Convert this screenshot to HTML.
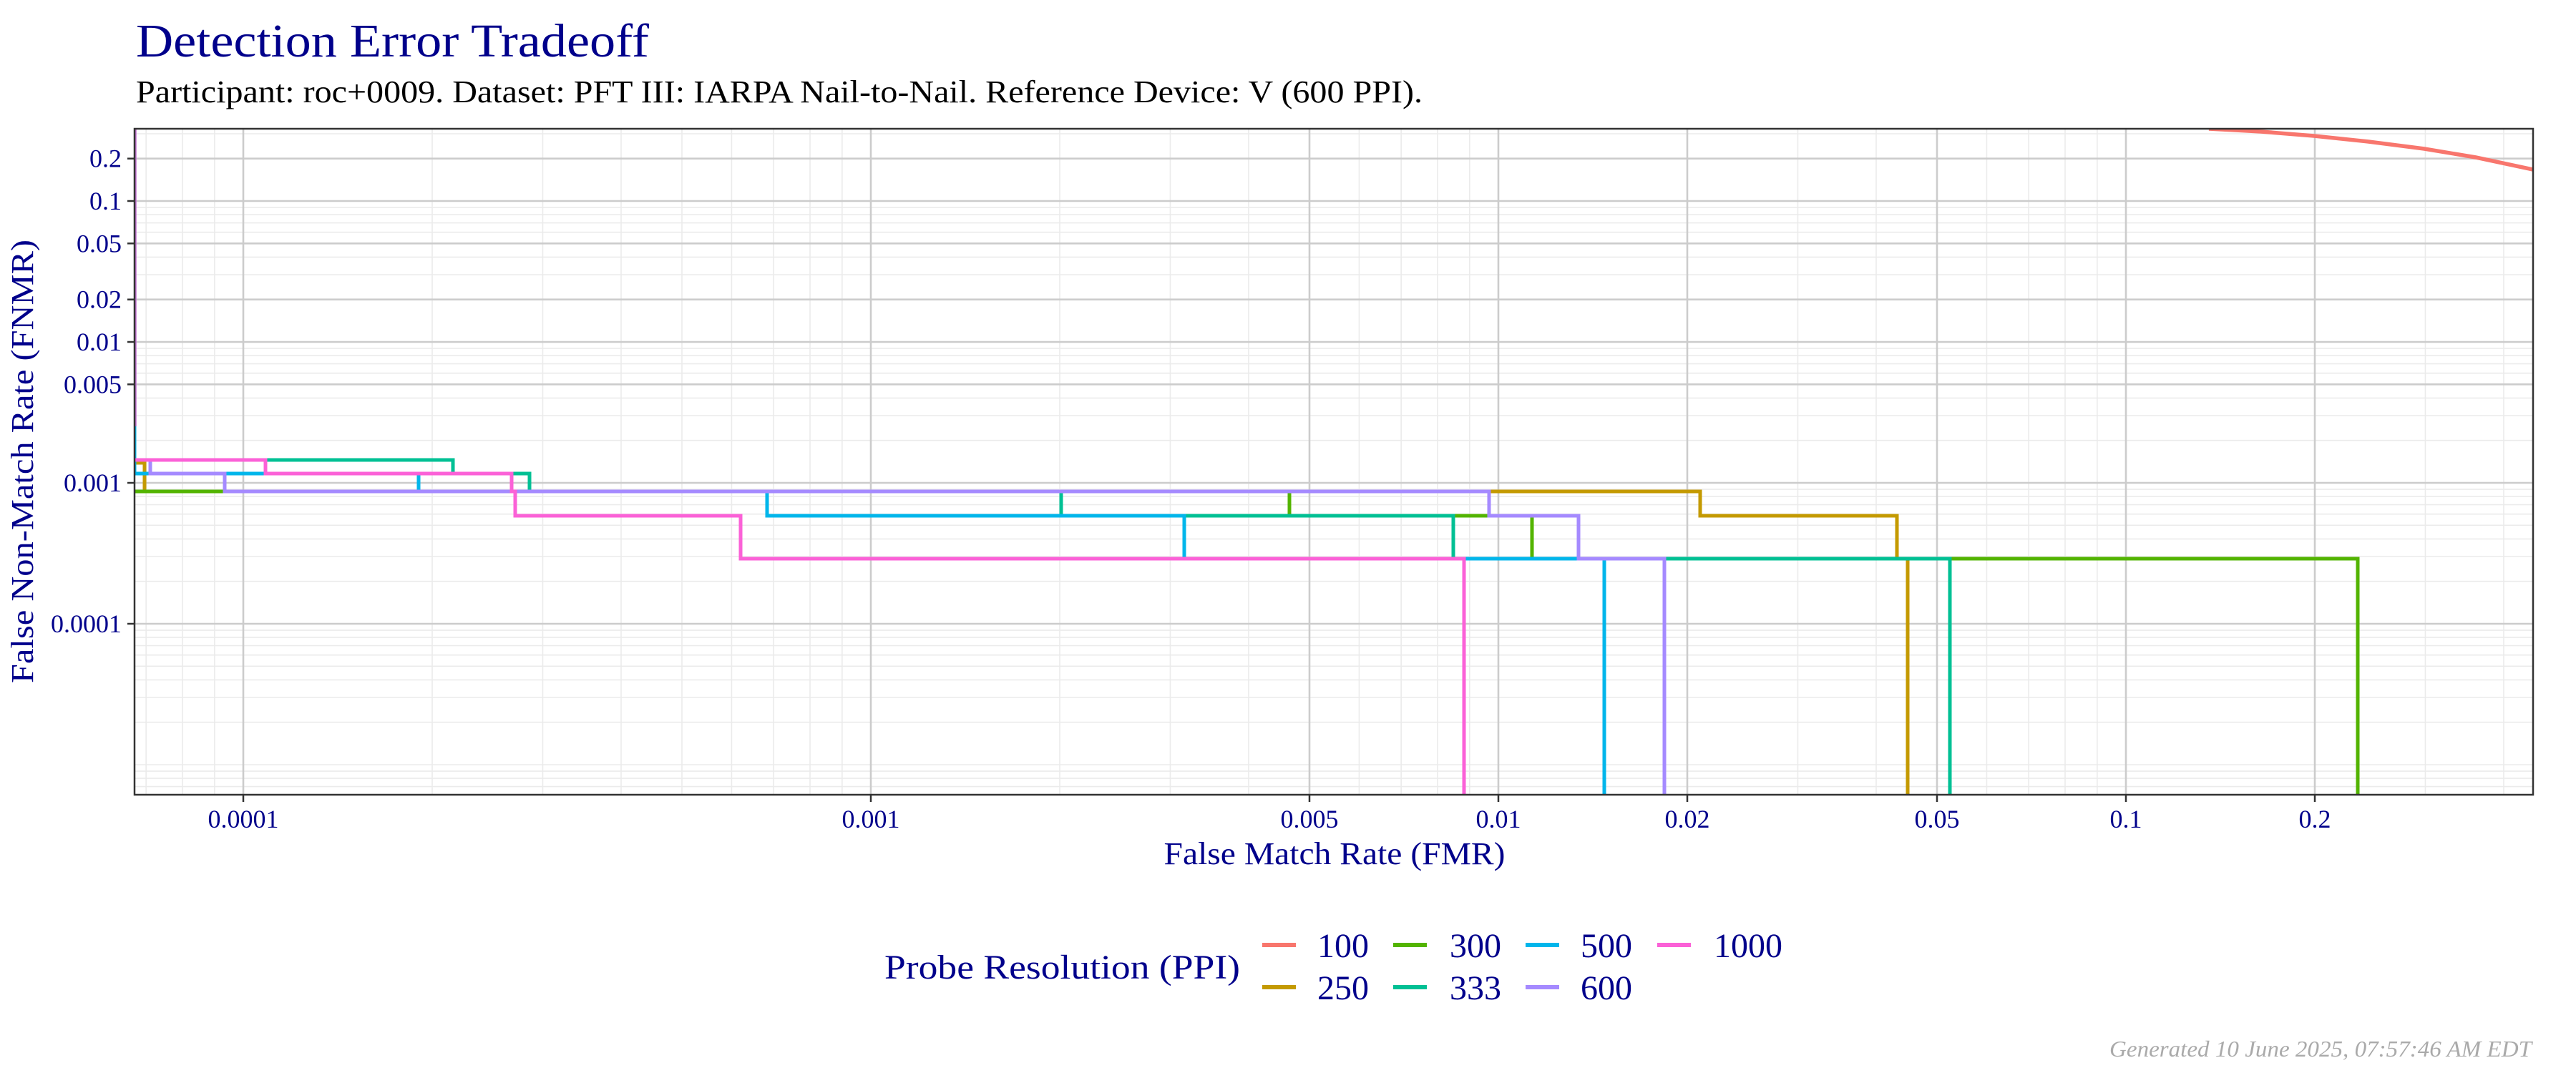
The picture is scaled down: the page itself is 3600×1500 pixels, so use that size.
<!DOCTYPE html>
<html><head><meta charset="utf-8"><style>
html,body{margin:0;padding:0;background:#fff;width:3600px;height:1500px;overflow:hidden}
svg{display:block}
text{font-family:"Liberation Serif",serif}
</style></head><body>
<svg id="s" width="3600" height="1500" xmlns="http://www.w3.org/2000/svg">
<rect width="3600" height="1500" fill="#fff"/>
<text x="190" y="79" font-size="66" fill="#00008B" textLength="717" lengthAdjust="spacingAndGlyphs">Detection Error Tradeoff</text>
<text x="190" y="143" font-size="44" fill="#000" textLength="1798" lengthAdjust="spacingAndGlyphs">Participant: roc+0009. Dataset: PFT III: IARPA Nail-to-Nail. Reference Device: V (600 PPI).</text>
<g id="grid"></g>
<g fill="none" stroke-width="5" stroke-linejoin="miter" clip-path="url(#cp)">
<path d="M3087,180 L3160,184 L3234,190 L3310,198 L3388,208 L3460,220 L3540,237" stroke="#F8766D" stroke-width="5.5"/>
<path d="M188,647 H202 V687 H2376 V721 H2651 V781 H2666 V1111" stroke="#C49A00"/>
<path d="M188,687 H1802 V721 H2141 V781 H3295 V1111" stroke="#53B400"/>
<path d="M188,643 H633 V662 H740 V687 H1483 V721 H2031 V781 H2725 V1111" stroke="#00C094"/>
<path d="M188,596 V662 H585 V687 H1072 V721 H1655 V781 H2242 V1111" stroke="#00B6EB"/>
<path d="M188,643 H210 V662 H314 V687 H2081 V721 H2206 V781 H2326 V1111" stroke="#A58AFF"/>
<path d="M188,643 H371 V662 H715 V687 H720 V721 H1035 V781 H2046 V1111" stroke="#FB61D7"/>
<path d="M189.5,180 V596" stroke="#C070D0" stroke-width="2.5"/>
</g>
<defs><clipPath id="cp"><rect x="188" y="180" width="3352" height="931"/></clipPath></defs>
<rect x="188" y="180" width="3352" height="931" fill="none" stroke="#333" stroke-width="2.5"/>
<g id="ticks"></g>
<text x="1865" y="1208" font-size="44" fill="#00008B" text-anchor="middle" textLength="477" lengthAdjust="spacingAndGlyphs">False Match Rate (FMR)</text>
<text transform="translate(46,645) rotate(-90)" font-size="44" fill="#00008B" text-anchor="middle" textLength="620" lengthAdjust="spacingAndGlyphs">False Non-Match Rate (FNMR)</text>
<text x="1236" y="1368" font-size="48" fill="#00008B" textLength="497" lengthAdjust="spacingAndGlyphs">Probe Resolution (PPI)</text>
<g stroke-width="6">
<line x1="1764" y1="1321" x2="1811" y2="1321" stroke="#F8766D"/>
<line x1="1764" y1="1380" x2="1811" y2="1380" stroke="#C49A00"/>
<line x1="1947" y1="1321" x2="1994" y2="1321" stroke="#53B400"/>
<line x1="1947" y1="1380" x2="1994" y2="1380" stroke="#00C094"/>
<line x1="2132" y1="1321" x2="2179" y2="1321" stroke="#00B6EB"/>
<line x1="2132" y1="1380" x2="2179" y2="1380" stroke="#A58AFF"/>
<line x1="2316" y1="1321" x2="2363" y2="1321" stroke="#FB61D7"/>
</g>
<g font-size="48" fill="#00008B">
<text x="1841" y="1338">100</text><text x="1841" y="1397">250</text>
<text x="2026" y="1338">300</text><text x="2026" y="1397">333</text>
<text x="2209" y="1338">500</text><text x="2209" y="1397">600</text>
<text x="2395" y="1338">1000</text>
</g>
<text x="2948" y="1477" font-size="32" font-style="italic" fill="#AAAAAA" textLength="590" lengthAdjust="spacingAndGlyphs">Generated 10 June 2025, 07:57:46 AM EDT</text>
</svg>
<script>
(function(){
var NS="http://www.w3.org/2000/svg";
function X(v){return 340+877*(Math.log10(v)+4);}
function Y(v){return 675-197*(Math.log10(v)+3);}
var L=188,R=3540,T=180,B=1111;
var g=document.getElementById("grid"),tk=document.getElementById("ticks");
function el(p,tag,a,txt){var e=document.createElementNS(NS,tag);for(var k in a)e.setAttribute(k,a[k]);if(txt!==undefined)e.textContent=txt;p.appendChild(e);return e;}
var xl=[0.0001,0.001,0.005,0.01,0.02,0.05,0.1,0.2],yl=[0.0001,0.001,0.005,0.01,0.02,0.05,0.1,0.2];
function isIn(arr,v){for(var i=0;i<arr.length;i++)if(Math.abs(arr[i]-v)/v<1e-6)return true;return false;}
for(var d=-6;d<=0;d++)for(var k=1;k<=9;k++){var v=k*Math.pow(10,d);
 var x=X(v);if(x>L&&x<R&&!isIn(xl,v))el(g,"line",{x1:x,y1:T,x2:x,y2:B,stroke:"#EBEBEB","stroke-width":1.6});
 var y=Y(v);if(y>T&&y<B&&!isIn(yl,v))el(g,"line",{x1:L,y1:y,x2:R,y2:y,stroke:"#EBEBEB","stroke-width":1.6});}
xl.forEach(function(v){var x=X(v);el(g,"line",{x1:x,y1:T,x2:x,y2:B,stroke:"#CCCCCC","stroke-width":2.6});
 el(tk,"line",{x1:x,y1:B,x2:x,y2:B+10,stroke:"#333","stroke-width":2.5});
 el(tk,"text",{x:x,y:1157,"font-size":36,fill:"#00008B","text-anchor":"middle"},String(v));});
yl.forEach(function(v){var y=Y(v);el(g,"line",{x1:L,y1:y,x2:R,y2:y,stroke:"#CCCCCC","stroke-width":2.6});
 el(tk,"line",{x1:L-10,y1:y,x2:L,y2:y,stroke:"#333","stroke-width":2.5});
 el(tk,"text",{x:170,y:y+12,"font-size":36,fill:"#00008B","text-anchor":"end"},String(v));});
})();
</script>
</body></html>
